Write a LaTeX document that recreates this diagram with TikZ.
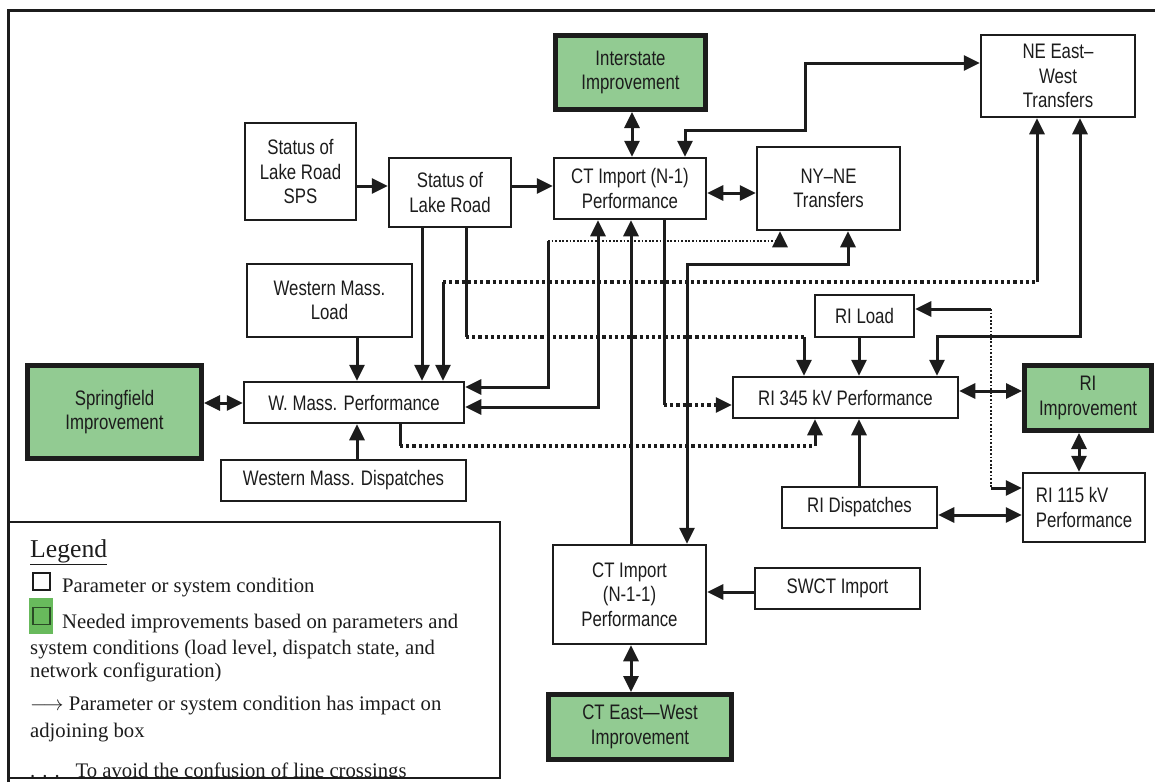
\documentclass[tikz,border=0pt]{standalone}
\usepackage{fontspec}
\setmainfont{Liberation Serif}
\newfontfamily\dfont[FakeStretch=0.8]{Liberation Sans}
\usetikzlibrary{arrows.meta}
\definecolor{impgreen}{RGB}{146,203,146}
\definecolor{leggreen}{RGB}{104,186,92}
\definecolor{ink}{RGB}{28,28,28}
\tikzset{
  box/.style={draw=ink, line width=2.5pt, fill=white, inner sep=0pt,
    font=\dfont\fontsize{21}{24.5}\selectfont, align=center, text=ink},
  gbox/.style={box, fill=impgreen, line width=5pt},
  conn/.style={draw=ink, line width=3pt},
  arr/.style={conn, -{Triangle[length=16pt,width=15pt]}},
  darr/.style={conn, {Triangle[length=16pt,width=15pt]}-{Triangle[length=16pt,width=15pt]}},
  sarr/.style={conn, {Triangle[length=16pt,width=15pt]}-},
  dots/.style={draw=ink, line width=3.2pt, dash pattern=on 3.2pt off 3pt},
  tdots/.style={draw=ink, line width=1.8pt, dash pattern=on 1.8pt off 1.8pt},
  dotarr/.style={dots, -{Triangle[length=16pt,width=15pt]}},
  leg/.style={anchor=base west, inner sep=0pt, font=\fontsize{20.7}{23}\selectfont, text=ink},
}
\begin{document}
\begin{tikzpicture}[x=1pt,y=-1pt]
\useasboundingbox (0,0) rectangle (1155,782);
% outer frame
\draw[line width=3pt, ink] (8,782) -- (8,10) -- (1155,10);

% boxes
\node[gbox, minimum width=150pt, minimum height=74pt] (inter) at (630.5,72.5) {Interstate\\Improvement};
\node[box, minimum width=111pt, minimum height=97pt] (sps) at (300.5,171.5) {Status of\\Lake Road\\SPS};
\node[box, minimum width=122pt, minimum height=69pt] (lake) at (450,192.5) {Status of\\Lake Road};
\node[box, minimum width=152pt, minimum height=61pt] (ctn1) at (630,188.5) {CT Import (N-1)\\Performance};
\node[box, minimum width=143pt, minimum height=83pt] (nyne) at (828.5,188.5) {NY–NE\\Transfers};
\node[box, minimum width=154pt, minimum height=82pt] (neew) at (1058,76) {NE East–\\West\\Transfers};
\node[box, minimum width=165pt, minimum height=73pt] (wml) at (329.5,300.5) {Western Mass.\\Load};
\node[gbox, minimum width=174pt, minimum height=93pt] (spring) at (114.5,412) {Springfield\\Improvement};
\node[box, minimum width=220pt, minimum height=41pt] (wmp) at (354,402.5) {W. Mass. Performance};
\node[box, minimum width=245pt, minimum height=41pt] (wmd) at (343.5,480.5) {Western Mass. Dispatches};
\node[box, minimum width=99pt, minimum height=42pt] (riload) at (864.5,316) {RI Load};
\node[box, minimum width=225pt, minimum height=41pt] (ri345) at (845.5,397.5) {RI 345 kV Performance};
\node[gbox, minimum width=127pt, minimum height=65pt] (riimp) at (1088,398) {RI\\Improvement};
\node[box, minimum width=155pt, minimum height=41pt] (ridisp) at (859.5,507.5) {RI Dispatches};
\node[box, minimum width=122pt, minimum height=69pt, align=left] (ri115) at (1084,507.5) {RI 115 kV\\Performance};
\node[box, minimum width=153pt, minimum height=99pt] (ctn11) at (629.5,594.5) {CT Import\\(N-1-1)\\Performance};
\node[box, minimum width=165pt, minimum height=41pt] (swct) at (837.5,588.5) {SWCT Import};
\node[gbox, minimum width=183pt, minimum height=65pt] (ctew) at (640,727) {CT East—West\\Improvement};

% connectors
\draw[arr] (sps.east |- 0,186) -- (lake.west |- 0,186);
\draw[arr] (lake.east |- 0,186) -- (ctn1.west |- 0,186);
\draw[darr] (inter.south -| 632,0) -- (ctn1.north -| 632,0);
\draw[darr] (ctn1.north -| 685,0) -- (685,130) -- (805,130) -- (805,63) -- (neew.west |- 0,63);
\draw[darr] (ctn1.east |- 0,193) -- (nyne.west |- 0,193);
\draw[arr] (lake.south -| 422,0) -- (wmp.north -| 422,0);
% Lake Road -> RI 345
\draw[conn] (lake.south -| 466,0) -- (466,337);
\draw[dots] (466,337) -- (804,337);
\draw[arr] (804,337) -- (ri345.north -| 804,0);
\draw[arr] (wml.south -| 357,0) -- (wmp.north -| 357,0);
\draw[arr] (wmd.north -| 357,0) -- (wmp.south -| 357,0);
\draw[darr] (spring.east |- 0,403) -- (wmp.west |- 0,403);
% W. Mass <-> NE East-West
\draw[sarr] (wmp.north -| 443,0) -- (443,282);
\draw[dots] (443,282) -- (1037,282);
\draw[arr] (1037,282) -- (neew.south -| 1037,0);
% W. Mass <-> NY-NE
\draw[sarr] (wmp.east |- 0,387) -- (548,387) -- (548,241);
\draw[tdots] (548,241) -- (780,241);
\draw[arr] (780,241) -- (nyne.south -| 780,0);
% W. Mass <-> CT N-1
\draw[darr] (wmp.east |- 0,407) -- (598,407) -- (ctn1.south -| 598,0);
% W. Mass -> RI 345
\draw[conn] (wmp.south -| 400,0) -- (400,446);
\draw[dots] (400,446) -- (815,446);
\draw[arr] (815,446) -- (ri345.south -| 815,0);
% CT N-1 -> RI 345
\draw[conn] (ctn1.south -| 664,0) -- (664,405);
\draw[dotarr] (664,405) -- (ri345.west |- 0,405);
\draw[arr] (ctn11.north -| 631,0) -- (ctn1.south -| 631,0);
\draw[darr] (nyne.south -| 848,0) -- (848,264) -- (687,264) -- (ctn11.north -| 687,0);
\draw[darr] (neew.south -| 1080,0) -- (1080,336) -- (937,336) -- (ri345.north -| 937,0);
\draw[arr] (riload.south -| 859,0) -- (ri345.north -| 859,0);
\draw[arr] (ridisp.north -| 859,0) -- (ri345.south -| 859,0);
\draw[darr] (ri345.east |- 0,391) -- (riimp.west |- 0,391);
\draw[darr] (riimp.south -| 1079,0) -- (ri115.north -| 1079,0);
\draw[darr] (ridisp.east |- 0,515) -- (ri115.west |- 0,515);
% RI Load <-> RI 115
\draw[sarr] (riload.east |- 0,309) -- (991,309);
\draw[tdots] (991,309) -- (991,488);
\draw[arr] (991,488) -- (ri115.west |- 0,488);
\draw[arr] (swct.west |- 0,592) -- (ctn11.east |- 0,592);
\draw[darr] (ctn11.south -| 631,0) -- (ctew.north -| 631,0);

% legend
\begin{scope}
\clip (8,522) rectangle (500,777);
\node[leg, font=\fontsize{25.7}{28}\selectfont] (legT) at (30,557) {\underline{Legend}};
\node[draw=ink, line width=1.2pt, fill=white, minimum width=17pt, minimum height=17pt, inner sep=0pt] (sq1) at (41.5,581.5) {};
\node[leg] (leg1) at (62,592) {Parameter or system condition};
\node[fill=leggreen, minimum width=24pt, minimum height=36pt, inner sep=0pt] (sq2) at (41,616) {};
\node[draw=black!60!leggreen, line width=1.2pt, minimum width=17pt, minimum height=17pt, inner sep=0pt] (sq2b) at (41.5,616) {};
\node[leg] (leg2) at (62,628) {Needed improvements based on parameters and};
\node[leg] (leg3) at (30,654) {system conditions (load level, dispatch state, and};
\node[leg] (leg4) at (30,677) {network configuration)};
\node[leg] (leg5) at (30,710) {$\longrightarrow$ Parameter or system condition has impact on};
\node[leg] (leg6) at (30,737) {adjoining box};
\node[leg] (leg7) at (30,777) {.\hspace{7pt}.\hspace{7pt}.\hspace{16pt}To avoid the confusion of line crossings};
\end{scope}
\draw[line width=2pt, ink] (8,522) rectangle (500,778);
\end{tikzpicture}
\end{document}
